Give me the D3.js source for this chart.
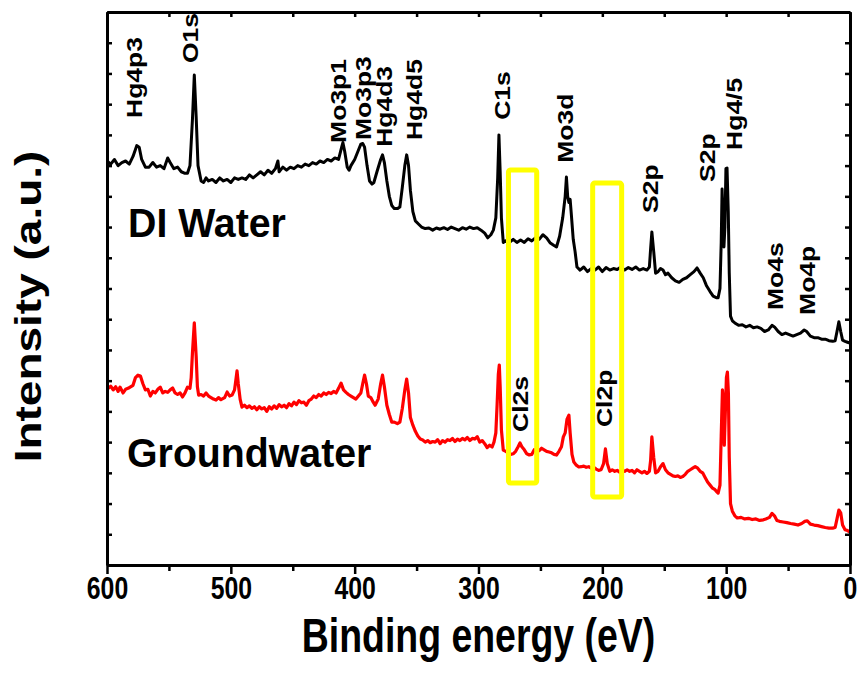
<!DOCTYPE html>
<html>
<head>
<meta charset="utf-8">
<script src="https://cdn.jsdelivr.net/npm/d3@7"></script>
<style>
  html, body { margin: 0; padding: 0; background: #fff; }
  svg { display: block; font-family: "Liberation Sans", Arial, sans-serif; font-weight: bold; }
</style>
</head>
<body>
<svg id="chart" width="863" height="684"></svg>
<script>
// ---------- DATA ----------
const xTickLabels = [600, 500, 400, 300, 200, 100, 0];
const xMinorTicks = [550, 450, 350, 250, 150, 50];
const yTicks = d3.range(0, 19, 1);

// DI Water spectrum (binding energy eV, intensity a.u.)
const diE = [600,597,594,591,588,585,582,579,576,574,572,569,566,563,560,557,554,551,549,546,543,540,537,535,533,531,529.5,528,526.5,524,522,520,518,515,512,509,506,503,500,497,494,491,488,485,482,479,476,473,470,467,464,462,461,458,455,452,449,446,443,440,437,434,431,428,425,422,419,416,413,410.5,409.5,408,406,404.5,403,400,397,395,393.5,392,390,388,386,384.5,382,379,377.5,376,374,372,370,368,365.5,363.5,361.5,359.5,358,356.5,355,353,351,348.5,346,343,340,337,334,331,328,325,322,319,316,313,310,307,304,301,298,295,292.5,290,288,286,284.5,283.5,282.5,281.5,280,278,275,272,269,266,263,260,257,254,251,248,245,242,239,237,234.5,232,230,229,228,227,226,225,223.5,222,220.5,218,215,212,209,206,203,200,197,194,191,188,185,182,179,176,173,170,167,164,162,161,160,158.5,157,155,153,151,149,147,144,141,138,135,132,129,126,123.5,121,118.5,116,113,110.5,108,106.5,105,104,103.3,102.5,101.8,101,100.2,99.3,98.3,97.5,96.5,95,93,90,87,84,81,78,75,72,69,66,63,61,58,55,52,49,46,43,40,37,35,32,29,26,23,20,17,14,12,10.5,9,7.5,6,4,2,0];
const diI = [13.15,13.05,13.2,13.0,13.1,13.15,13.05,13.3,13.65,13.6,13.2,12.95,12.95,13.1,12.95,13.0,12.9,13.25,13.1,12.9,12.95,12.8,12.75,12.75,13.0,14.5,15.95,14.6,13.0,12.5,12.45,12.6,12.5,12.55,12.45,12.6,12.5,12.55,12.45,12.6,12.55,12.6,12.55,12.7,12.6,12.7,12.8,12.7,12.85,12.75,12.9,13.15,12.8,12.95,12.85,12.95,12.9,13.0,12.95,13.05,13.0,13.1,13.05,13.15,13.1,13.2,13.15,13.25,13.2,13.6,13.75,13.45,12.95,12.85,13.0,13.2,13.5,13.7,13.72,13.6,13.0,12.5,12.4,12.45,12.8,13.2,13.35,13.1,12.5,12.0,11.7,11.6,11.6,11.65,12.3,13.0,13.35,13.0,12.2,11.5,11.2,11.1,11.0,10.95,10.97,10.9,10.97,10.93,10.98,10.92,11.0,10.95,10.9,10.98,10.93,11.0,10.95,10.98,10.9,10.8,10.65,10.75,10.9,11.3,12.6,14.0,12.8,11.3,10.5,10.55,10.5,10.6,10.5,10.58,10.5,10.62,10.55,10.65,10.6,10.75,10.65,10.48,10.4,10.35,10.7,11.3,12.0,12.63,12.0,11.8,11.9,11.4,10.6,10.2,9.7,9.6,9.7,9.55,9.65,9.6,9.7,9.55,9.68,9.6,9.65,9.62,9.7,9.6,9.68,9.62,9.7,9.6,9.65,9.6,9.7,10.3,10.84,10.2,9.5,9.55,9.65,9.6,9.45,9.5,9.35,9.25,9.2,9.3,9.35,9.45,9.55,9.67,9.5,9.35,9.1,8.9,8.75,8.7,8.7,9.0,10.5,12.24,11.3,10.35,11.0,12.9,12.92,11.5,9.5,8.1,7.95,7.88,7.8,7.82,7.75,7.8,7.72,7.75,7.7,7.6,7.65,7.8,7.75,7.6,7.5,7.55,7.5,7.45,7.5,7.55,7.65,7.6,7.45,7.4,7.4,7.35,7.35,7.3,7.28,7.3,7.6,7.92,7.6,7.32,7.28,7.25,7.22];

// Groundwater spectrum
const gwE = [600,597,595,593,591,589.5,587,585,583,581,579,577,575,573,571,569,567,565,563,561,559,557,555,553,551,549,547,545,543,541,539,537,535,533,532,531,529.5,528,527,526,524,522,520,518,516,514,512,510,508,505,503,501,499,497,496,495,494,492.5,491,489,487,485,483,481,479,477,475,473,471,469,467,465,463,461,459,457,455,453,451,449,447,445,443,441,439,437,435,433,431,429,427,425,423,421,419,417,415,413,411,409,407,405,403,401,399,397,395,393.5,392,390.5,389,387,385,383.5,381,379,377.5,376,374,372,370,368,365.5,363.5,361.5,359.5,358,356.5,355,353,351,349,347,345,343,341,339,337,335,333,331,329,327,325,323,321,319,317,315,313,311,309,307,305,303,301,299,297,295,293,291,289,287.5,286,285,284,283.2,282.5,281.5,280,278,276,274,272,270,268,266.5,265,263,261,259,257,255,253,251,249,247,245,243,241,239,237,235,233,231.5,230,228.5,227,226,224.5,223,221,219,217,215,213,211,209,207,205,203,201,199,197.5,196,194,192,190,188,186,184,182,180,178,176,174,172,170,168,166,164,162,161,160,158.5,157,155,153,151,149,147,145,143,141,139,137,135,133,131,129,127,125,123,121,119,117,115,113,111,109,107.5,106.5,105,104,103,102.2,101.5,100.8,99.8,99,98.2,97.5,96.5,95,93,91,88,85,82,79,76,73,70,68,65,63,61,59,57,54,51,48,45,42,39,36.5,34.5,32,29,26,23,20,17,14,12,10.5,9,7.5,6,4,2,0];
const gwI = [5.72,5.82,5.7,5.8,5.65,5.79,5.6,5.72,5.75,5.8,5.85,6.1,6.18,6.15,5.9,5.7,5.72,5.5,5.65,5.6,5.72,5.79,5.6,5.65,5.62,5.7,5.76,5.6,5.55,5.6,5.47,5.6,5.79,5.75,6.1,6.9,7.88,6.8,5.8,5.53,5.55,5.5,5.6,5.5,5.45,5.4,5.37,5.45,5.38,5.45,5.63,5.5,5.53,5.7,6.0,6.32,5.9,5.4,5.14,5.2,5.12,5.18,5.1,5.15,5.05,5.15,5.08,5.12,5.0,5.15,5.08,5.18,5.1,5.22,5.15,5.2,5.12,5.25,5.18,5.3,5.22,5.35,5.28,5.3,5.2,5.35,5.4,5.5,5.45,5.55,5.5,5.6,5.55,5.62,5.58,5.65,5.6,5.75,5.92,5.7,5.62,5.55,5.5,5.45,5.4,5.5,5.6,5.9,6.18,5.9,5.5,5.45,5.3,5.2,5.4,5.9,6.18,5.8,5.2,4.9,4.65,4.65,4.6,4.65,5.1,5.7,6.05,5.6,4.8,4.55,4.35,4.2,4.1,4.07,4.0,4.05,3.98,4.02,4.0,4.08,3.95,4.05,4.0,4.08,4.05,4.12,4.02,4.1,4.05,4.12,4.07,4.15,4.05,4.12,4.1,4.18,4.0,4.05,3.95,3.82,3.9,3.84,4.0,4.3,5.2,6.2,6.51,5.8,4.4,3.74,3.7,3.65,3.6,3.62,3.7,3.85,3.97,3.85,3.75,3.62,3.58,3.6,3.75,3.7,3.72,3.8,3.75,3.7,3.68,3.65,3.6,3.58,3.7,3.85,4.17,4.3,4.75,4.88,4.3,3.6,3.35,3.25,3.19,3.2,3.22,3.18,3.2,3.15,3.18,3.12,3.08,3.1,3.3,3.78,3.3,3.05,3.1,3.05,3.08,3.02,3.08,3.05,3.1,3.05,3.08,3.0,3.1,3.05,3.0,3.05,2.98,3.05,3.4,4.17,3.5,3.0,3.05,3.2,3.3,3.1,3.0,2.95,2.9,2.88,2.9,2.85,2.88,2.95,3.05,3.1,3.15,3.2,3.15,3.05,3.0,2.85,2.7,2.6,2.5,2.45,2.38,2.34,2.6,4.2,5.7,5.3,3.9,4.8,6.1,6.28,5.6,3.5,2.0,1.75,1.6,1.53,1.55,1.5,1.52,1.48,1.5,1.45,1.47,1.5,1.55,1.68,1.6,1.45,1.42,1.4,1.38,1.35,1.33,1.3,1.35,1.42,1.44,1.33,1.3,1.28,1.25,1.22,1.2,1.2,1.22,1.5,1.79,1.7,1.3,1.15,1.12,1.07];

// Peak annotations (text, energy at text baseline, intensity at text start)
const peakText = ["Hg4p3","O1s","Mo3p1","Mo3p3","Hg4d3","Hg4d5","C1s","Mo3d","S2p","S2p","Hg4/5","Mo4s","Mo4p","Cl2s","Cl2p"];
const peakE    = [571.7, 526.5, 407.0, 386.8, 369.8, 345.6, 274.6, 223.7, 155.0, 109.0, 87.2, 54.1, 28.3, 260.0, 192.2];
const peakI    = [14.55, 16.34, 13.74, 13.83, 13.61, 13.83, 14.49, 13.09, 11.46, 12.47, 13.51, 8.30, 8.14, 4.33, 4.49];

// Sample names
const sampleText = ["DI Water", "Groundwater"];
const sampleE = [583.0, 583.8];
const sampleI = [10.68, 3.19];

// Highlight boxes (Cl regions)
const boxE0 = [275.8, 207.8];
const boxE1 = [253.0, 184.4];
const boxTop = [12.86, 12.43];
const boxBottom = [2.67, 2.21];

// ---------- DRAW ----------
const svg = d3.select("#chart");
const L = 107, R = 850, T = 12, B = 565;
const x = d3.scaleLinear().domain([600, 0]).range([L, R]);
const y = d3.scaleLinear().domain([0, 18]).range([B, T]);

const line = d3.line().x(d => x(d[0])).y(d => y(d[1]));

const diData = diE.map((e, i) => [e, diI[i]]);
const gwData = gwE.map((e, i) => [e, gwI[i]]);

svg.append("path").datum(diData).attr("d", line)
  .attr("fill", "none").attr("stroke", "#000").attr("stroke-width", 3).attr("stroke-linejoin", "round");
svg.append("path").datum(gwData).attr("d", line)
  .attr("fill", "none").attr("stroke", "#ff0000").attr("stroke-width", 3.2).attr("stroke-linejoin", "round");

// boxes
svg.selectAll("rect.box").data(boxE0).enter().append("rect")
  .attr("class", "box")
  .attr("x", (d, i) => x(boxE0[i]))
  .attr("y", (d, i) => y(boxTop[i]))
  .attr("width", (d, i) => x(boxE1[i]) - x(boxE0[i]))
  .attr("height", (d, i) => y(boxBottom[i]) - y(boxTop[i]))
  .attr("rx", 2)
  .attr("fill", "none").attr("stroke", "#ffff00").attr("stroke-width", 5);

// axes
const axisW = 3;
function styleAxis(g) {
  g.selectAll("path.domain").attr("stroke", "#000").attr("stroke-width", axisW);
  g.selectAll(".tick line").attr("stroke", "#000").attr("stroke-width", 2.5);
}
const gb = svg.append("g").attr("transform", `translate(0,${B})`)
  .call(d3.axisBottom(x).tickValues(xTickLabels).tickSize(9).tickSizeOuter(0).tickPadding(3));
styleAxis(gb);
gb.selectAll(".tick text").attr("font-size", 31).attr("font-family", "Liberation Sans, Arial, sans-serif")
  .attr("font-weight", "bold").attr("fill", "#000").attr("transform", "scale(0.8,1)");
const gbm = svg.append("g").attr("transform", `translate(0,${B})`)
  .call(d3.axisBottom(x).tickValues(xMinorTicks).tickSize(6).tickFormat(""));
gbm.select("path.domain").remove(); styleAxis(gbm);

const gt = svg.append("g").attr("transform", `translate(0,${T})`)
  .call(d3.axisTop(x).tickValues(xTickLabels.concat(xMinorTicks)).tickSize(-5).tickSizeOuter(0).tickFormat(""));
styleAxis(gt);
const gl = svg.append("g").attr("transform", `translate(${L},0)`)
  .call(d3.axisLeft(y).tickValues(yTicks).tickSize(-5).tickSizeOuter(0).tickFormat(""));
styleAxis(gl);
const gr = svg.append("g").attr("transform", `translate(${R},0)`)
  .call(d3.axisRight(y).tickValues(yTicks).tickSize(-5).tickSizeOuter(0).tickFormat(""));
styleAxis(gr);

// axis titles
svg.append("text").attr("transform", `translate(${(L + R) / 2},652) scale(0.78,1)`)
  .attr("text-anchor", "middle").attr("font-size", 48).text("Binding energy (eV)");
svg.append("text").attr("transform", `translate(41,${(T + B) / 2 + 18}) scale(0.8,1) rotate(-90)`)
  .attr("text-anchor", "middle").attr("font-size", 46).text("Intensity (a.u.)");

// peak labels
svg.selectAll("text.peak").data(peakText).enter().append("text")
  .attr("class", "peak")
  .attr("transform", (d, i) => `translate(${x(peakE[i])},${y(peakI[i])}) scale(0.84,1) rotate(-90)`)
  .attr("font-size", 26.5).attr("text-anchor", "start").text(d => d);

// sample labels
svg.selectAll("text.sample").data(sampleText).enter().append("text")
  .attr("class", "sample")
  .attr("transform", (d, i) => `translate(${x(sampleE[i])},${y(sampleI[i])}) scale(0.97,1)`)
  .attr("font-size", 40.5).text(d => d);
</script>
</body>
</html>
